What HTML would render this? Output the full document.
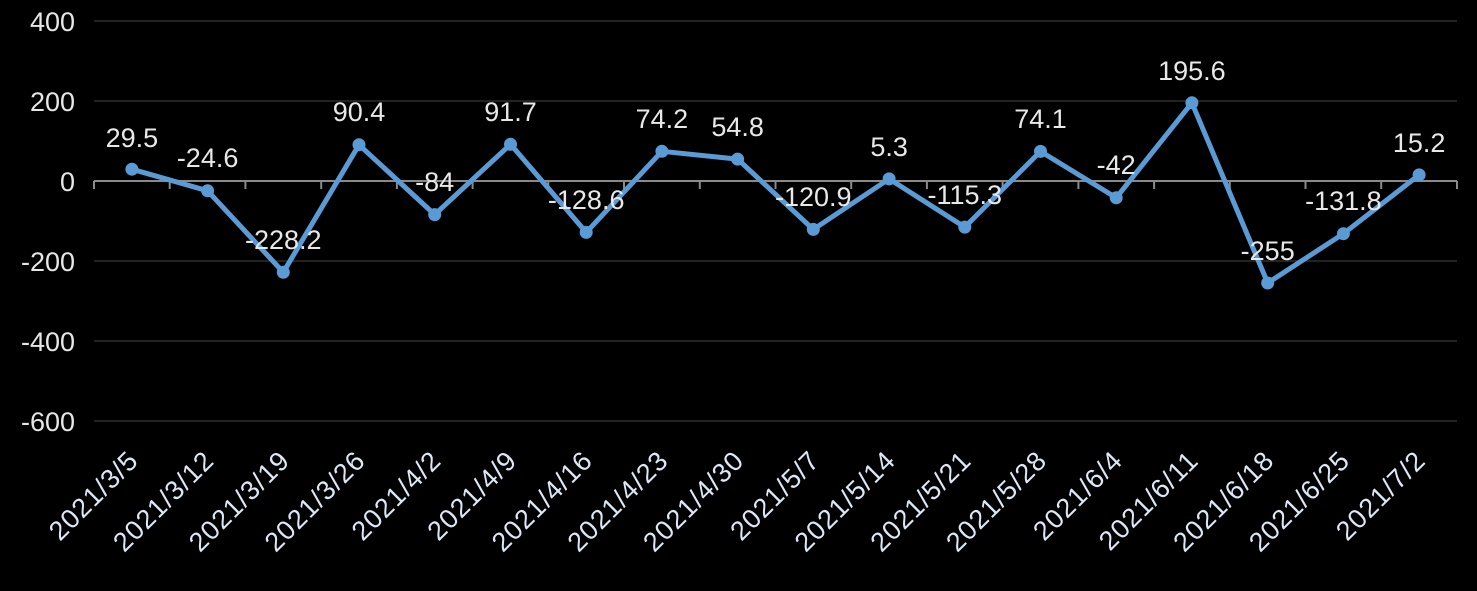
<!DOCTYPE html><html><head><style>html,body{margin:0;background:#000;}svg{display:block}</style></head><body>
<svg width="1477" height="591" xmlns="http://www.w3.org/2000/svg" font-family="'Liberation Sans','Noto Sans CJK SC',sans-serif">
<rect width="1477" height="591" fill="#000"/>
<g stroke="#2e2e2e" stroke-width="1.5">
<line x1="94" x2="1457" y1="21" y2="21"/><line x1="94" x2="1457" y1="101" y2="101"/>
<line x1="94" x2="1457" y1="261" y2="261"/><line x1="94" x2="1457" y1="341" y2="341"/><line x1="94" x2="1457" y1="421" y2="421"/>
</g>
<g fill="#e6e6e6" font-size="27" text-anchor="end">
<text x="75" y="31">400</text><text x="75" y="111">200</text><text x="75" y="191">0</text><text x="75" y="271">-200</text><text x="75" y="351">-400</text><text x="75" y="431">-600</text>
</g>
<line x1="94" x2="1457" y1="181" y2="181" stroke="#8a8a8a" stroke-width="2"/>
<g stroke="#8a8a8a" stroke-width="2">
<line x1="94" x2="94" y1="181" y2="189"/><line x1="169.7" x2="169.7" y1="181" y2="189"/><line x1="245.4" x2="245.4" y1="181" y2="189"/><line x1="321.2" x2="321.2" y1="181" y2="189"/><line x1="396.9" x2="396.9" y1="181" y2="189"/><line x1="472.6" x2="472.6" y1="181" y2="189"/><line x1="548.3" x2="548.3" y1="181" y2="189"/><line x1="624" x2="624" y1="181" y2="189"/><line x1="699.8" x2="699.8" y1="181" y2="189"/><line x1="775.5" x2="775.5" y1="181" y2="189"/><line x1="851.2" x2="851.2" y1="181" y2="189"/><line x1="926.9" x2="926.9" y1="181" y2="189"/><line x1="1002.6" x2="1002.6" y1="181" y2="189"/><line x1="1078.4" x2="1078.4" y1="181" y2="189"/><line x1="1154.1" x2="1154.1" y1="181" y2="189"/><line x1="1229.8" x2="1229.8" y1="181" y2="189"/><line x1="1305.5" x2="1305.5" y1="181" y2="189"/><line x1="1381.2" x2="1381.2" y1="181" y2="189"/><line x1="1457" x2="1457" y1="181" y2="189"/>
</g>
<polyline fill="none" stroke="#5b9bd5" stroke-width="5" stroke-linejoin="round" points="131.9,169.2 207.6,190.8 283.3,272.3 359,144.8 434.7,214.6 510.5,144.3 586.2,232.4 661.9,151.3 737.6,159.1 813.3,229.4 889.1,178.9 964.8,227.1 1040.5,151.4 1116.2,197.8 1191.9,102.8 1267.7,283 1343.4,233.7 1419.1,174.9"/>
<g fill="#5b9bd5">
<circle cx="131.9" cy="169.2" r="6.5"/><circle cx="207.6" cy="190.8" r="6.5"/><circle cx="283.3" cy="272.3" r="6.5"/><circle cx="359" cy="144.8" r="6.5"/><circle cx="434.7" cy="214.6" r="6.5"/><circle cx="510.5" cy="144.3" r="6.5"/><circle cx="586.2" cy="232.4" r="6.5"/><circle cx="661.9" cy="151.3" r="6.5"/><circle cx="737.6" cy="159.1" r="6.5"/><circle cx="813.3" cy="229.4" r="6.5"/><circle cx="889.1" cy="178.9" r="6.5"/><circle cx="964.8" cy="227.1" r="6.5"/><circle cx="1040.5" cy="151.4" r="6.5"/><circle cx="1116.2" cy="197.8" r="6.5"/><circle cx="1191.9" cy="102.8" r="6.5"/><circle cx="1267.7" cy="283" r="6.5"/><circle cx="1343.4" cy="233.7" r="6.5"/><circle cx="1419.1" cy="174.9" r="6.5"/>
</g>
<g fill="#e8e8e8" font-size="27" text-anchor="middle">
<text x="131.9" y="147">29.5</text><text x="207.6" y="167">-24.6</text><text x="283.3" y="249">-228.2</text><text x="359" y="121">90.4</text><text x="434.7" y="191">-84</text><text x="510.5" y="121">91.7</text><text x="586.2" y="209">-128.6</text><text x="661.9" y="128">74.2</text><text x="737.6" y="136">54.8</text><text x="813.3" y="206">-120.9</text><text x="889.1" y="156">5.3</text><text x="964.8" y="204">-115.3</text><text x="1040.5" y="128">74.1</text><text x="1116.2" y="174">-42</text><text x="1191.9" y="80">195.6</text><text x="1267.7" y="260">-255</text><text x="1343.4" y="210">-131.8</text><text x="1419.1" y="152">15.2</text>
</g>
<g fill="#dce8f5" font-size="27" text-anchor="end" letter-spacing="1">
<text transform="translate(140,462) rotate(-45)">2021/3/5</text>
<text transform="translate(215.6,462) rotate(-45)">2021/3/12</text>
<text transform="translate(291.3,462) rotate(-45)">2021/3/19</text>
<text transform="translate(367,462) rotate(-45)">2021/3/26</text>
<text transform="translate(442.7,462) rotate(-45)">2021/4/2</text>
<text transform="translate(518.5,462) rotate(-45)">2021/4/9</text>
<text transform="translate(594.2,462) rotate(-45)">2021/4/16</text>
<text transform="translate(669.9,462) rotate(-45)">2021/4/23</text>
<text transform="translate(745.6,462) rotate(-45)">2021/4/30</text>
<text transform="translate(821.3,462) rotate(-45)">2021/5/7</text>
<text transform="translate(897.1,462) rotate(-45)">2021/5/14</text>
<text transform="translate(972.8,462) rotate(-45)">2021/5/21</text>
<text transform="translate(1048.5,462) rotate(-45)">2021/5/28</text>
<text transform="translate(1124.2,462) rotate(-45)">2021/6/4</text>
<text transform="translate(1199.9,462) rotate(-45)">2021/6/11</text>
<text transform="translate(1275.7,462) rotate(-45)">2021/6/18</text>
<text transform="translate(1351.4,462) rotate(-45)">2021/6/25</text>
<text transform="translate(1427.1,462) rotate(-45)">2021/7/2</text>
</g>
</svg></body></html>
